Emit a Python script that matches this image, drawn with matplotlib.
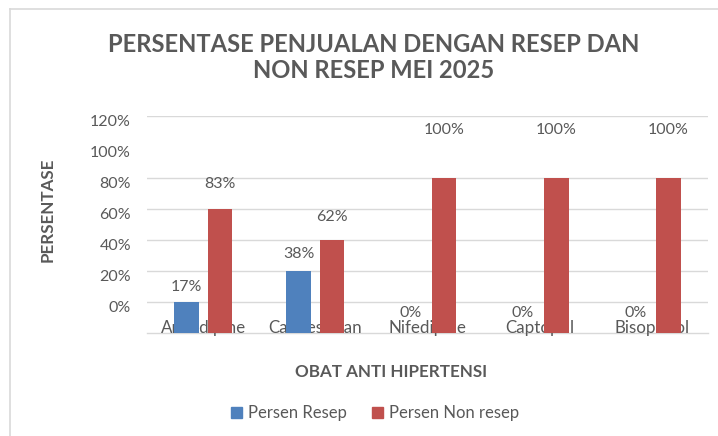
import matplotlib
matplotlib.use("Agg")
import matplotlib.pyplot as plt
import matplotlib.patches as mpatches
from matplotlib.transforms import ScaledTranslation
import numpy as np

obat = ["Amlodipine", "Candesartan", "Nifedipine", "Captopril", "Bisoprolol"]
persen_resep = [17, 38, 0, 0, 0]
persen_non_resep = [83, 62, 100, 100, 100]
# bar heights as they are drawn in the original picture (gridline scale)
tinggi_resep = [20, 40, 0, 0, 0]
tinggi_non_resep = [80, 60, 100, 100, 100]
tick_pos = [20, 40, 60, 80, 100, 120, 140]
tick_labels = ["0%", "20%", "40%", "60%", "80%", "100%", "120%"]
grid_pos = [20, 40, 60, 80, 100, 140]

BLUE = "#4f81bd"
RED = "#c0504d"
TXT = "#595959"
GRID = "#d9d9d9"
W, H = 718, 436

plt.rcParams["font.family"] = ["Lato", "DejaVu Sans"]

fig = plt.figure(figsize=(W / 100, H / 100), dpi=100)
ax = fig.add_axes([147 / W, 1 - 333 / H, (708 - 147) / W, (333 - 116) / H])


def fit_size(text, target_px, weight="normal"):
    # scale font size so the text is target_px wide
    r = fig.canvas.get_renderer()
    t = fig.text(0, 0, text, fontsize=10, fontweight=weight)
    w = t.get_window_extent(r).width
    t.remove()
    return 10 * target_px / w


x = np.arange(len(obat))
bw = 0.218
off = 0.149
ax.bar(x - off, tinggi_resep, bw, color=BLUE, zorder=2)
ax.bar(x + off, tinggi_non_resep, bw, color=RED, zorder=2)

for g in grid_pos:
    ax.axhline(g, color=GRID, lw=1, zorder=0.5)

ax.set_xlim(-0.5, len(obat) - 0.5)
ax.set_ylim(0, 140)
ax.set_xticks([])
ax.set_yticks(tick_pos, tick_labels)
ax.tick_params(axis="y", length=0, pad=11.5, labelsize=11.5, labelcolor=TXT)
for lab in ax.get_yticklabels():
    lab.set_transform(lab.get_transform() + ScaledTranslation(0, -3 / 72, fig.dpi_scale_trans))
for s in ["top", "right", "left"]:
    ax.spines[s].set_visible(False)
ax.spines["bottom"].set_color(GRID)
ax.spines["bottom"].set_linewidth(1)
ax.spines["bottom"].set_zorder(0.5)

# category names sit behind the bars, like in the original
cs = fit_size("Amlodipine", 85)
for i, name in enumerate(obat):
    ax.text(i, 0, name, ha="center", va="baseline", fontsize=cs, color=TXT, zorder=1)

# data labels
for i in range(len(obat)):
    for pct, dx in [(persen_resep[i], -off), (persen_non_resep[i], off)]:
        y = pct + 13 if pct < 100 else pct + 31
        ax.text(i + dx, y, f"{pct}%", ha="center", va="center", fontsize=11.5, color=TXT)

ts = fit_size("PERSENTASE PENJUALAN DENGAN RESEP DAN", 532, "bold")
fig.text(374 / W, 1 - 44.5 / H, "PERSENTASE PENJUALAN DENGAN RESEP DAN", ha="center", va="center",
         fontsize=ts, fontweight="bold", color=TXT)
fig.text(374 / W, 1 - 70 / H, "NON RESEP MEI 2025", ha="center", va="center",
         fontsize=ts, fontweight="bold", color=TXT)

ls = fit_size("OBAT ANTI HIPERTENSI", 193, "bold")
fig.text(391.5 / W, 1 - 372 / H, "OBAT ANTI HIPERTENSI", ha="center", va="center",
         fontsize=ls, fontweight="bold", color=TXT)
fig.text(47.5 / W, 1 - 210 / H, "PERSENTASE", ha="center", va="center", rotation=90,
         fontsize=ls, fontweight="bold", color=TXT)

handles = [mpatches.Patch(color=BLUE, label="Persen Resep"),
           mpatches.Patch(color=RED, label="Persen Non resep")]
fig.legend(handles=handles, loc="center", bbox_to_anchor=(375 / W, 1 - 413 / H), ncol=2,
           frameon=False, handlelength=0.65, handleheight=0.65, handletextpad=0.35,
           columnspacing=1.5, fontsize=12, labelcolor=TXT)

# outer chart border (only top and left visible in the crop)
fig.add_artist(plt.Line2D([10 / W, 1], [1 - 9 / H, 1 - 9 / H], color=GRID, lw=1.2, transform=fig.transFigure))
fig.add_artist(plt.Line2D([10 / W, 10 / W], [0, 1 - 9 / H], color=GRID, lw=1.2, transform=fig.transFigure))

fig.savefig("out.png", dpi=100)
